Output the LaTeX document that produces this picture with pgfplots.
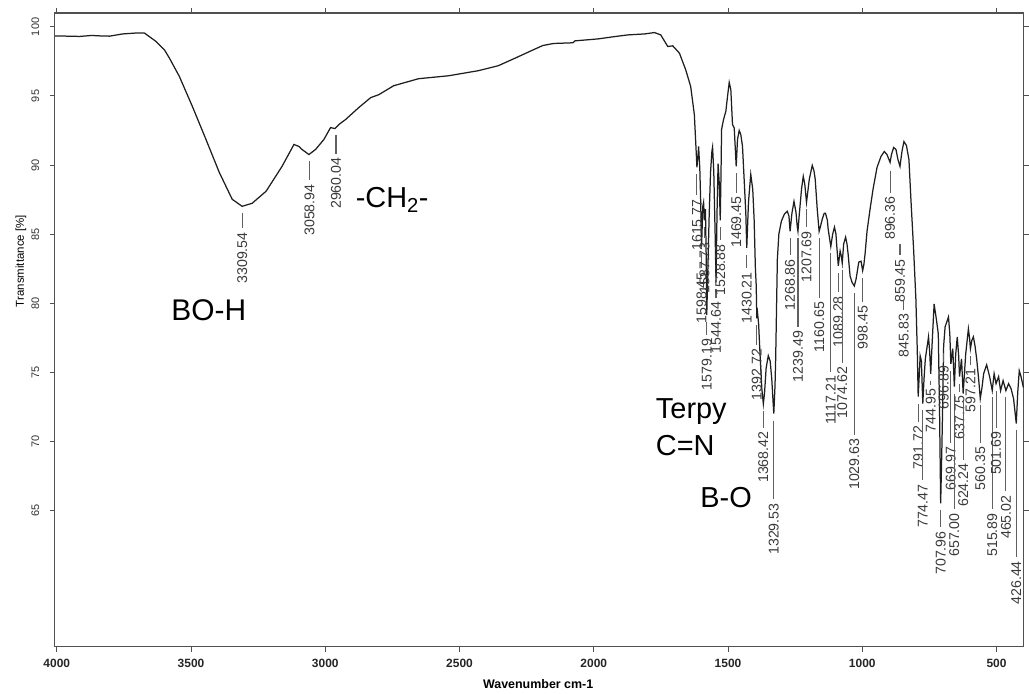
\documentclass[border=0pt]{standalone}
\usepackage{fontspec}
\setmainfont{Liberation Sans}
\usepackage{pgfplots}
\pgfplotsset{compat=1.18}
\definecolor{curvecol}{HTML}{1E1E1E}
\definecolor{labcol}{HTML}{3A3A3A}
\definecolor{linecol}{HTML}{606060}
\definecolor{framecol}{HTML}{505050}

% peak label: wavenumber, top of marker line (T), top of text (T)
\newcommand{\pk}[3]{%
  \draw[linecol, line width=1.1pt] (axis cs:#1,#2) -- (axis cs:#1,{#3+0.28});
  \node[rotate=90, anchor=east, inner sep=0pt, text=labcol,
        font=\fontsize{14.2}{15}\selectfont] at (axis cs:#1,#3) {#1};
}

\begin{document}
\begin{tikzpicture}
\begin{axis}[
  name=ax,
  scale only axis, width=972pt, height=636pt,
  x dir=reverse,
  xmin=399.4, xmax=4007.4, ymin=55.12, ymax=101.01,
  xtick={500,1000,...,4000},
  ytick={65,70,...,100},
  clip=false,
  tick align=outside, major tick length=5pt,
  axis line style={framecol, line width=1.3pt},
  tick style={framecol, line width=1pt},
  /pgf/number format/assume math mode=true,
  /pgf/number format/1000 sep={},
  xticklabel style={font=\bfseries\fontsize{12}{12}\selectfont, text=black!85},
  yticklabel style={rotate=90, anchor=south, font=\fontsize{11}{11}\selectfont, text=black!80},
  xticklabel shift=4pt,
  yticklabel shift=7pt,
  xlabel={Wavenumber cm-1},
  xlabel style={font=\bfseries\fontsize{12.5}{13}\selectfont, at={(axis description cs:0.499,-0.058)}, anchor=center},
  ylabel={Transmittance [\%]},
  ylabel style={font=\fontsize{11.5}{12}\selectfont, at={(axis description cs:-0.035,0.6085)}, anchor=center, rotate=0},
]
\addplot[curvecol, line width=1.25pt] coordinates {
(4007,99.35) (3914.6,99.31) (3870,99.38) (3840.4,99.35) (3803.3,99.33) (3755,99.49) (3710.5,99.55) (3673.3,99.55)
(3629.9,98.94) (3599.1,98.34) (3580.5,97.74) (3543.4,96.41) (3495.2,94.25) (3444.3,91.85) (3394.9,89.47)
(3346.7,87.52) (3309.6,87.01) (3272.4,87.23) (3220.5,88.10) (3161.1,89.90) (3116.6,91.49) (3098.0,91.34)
(3086.9,91.13) (3060.9,90.76) (3036.0,91.13) (3005.2,91.85) (2980.3,92.71) (2964.3,92.64) (2949.5,92.93)
(2924.6,93.29) (2875.3,94.16) (2830.8,94.88) (2801.0,95.09) (2745.4,95.74) (2652.5,96.25) (2541.2,96.46)
(2429.8,96.83) (2355.6,97.19) (2281.3,97.84) (2230,98.3) (2190,98.65) (2150,98.8) (2077.2,98.85) (2069.8,98.99)
(1984.4,99.13) (1921.3,99.30) (1873.0,99.42) (1811.0,99.49) (1773.9,99.59) (1750.5,99.42) (1724.5,98.58)
(1705.9,98.63) (1681.0,98.10) (1657.7,96.90) (1639.1,95.69) (1625.4,93.65) (1619.5,91.34) (1615.8,89.83)
(1611,90.9) (1609.5,91.34) (1605,89.7) (1602,87.5) (1598.4,84.1) (1594,87.0) (1591,87.3) (1587.7,86.0)
(1584,86.8) (1581,83.0) (1579.2,79.15) (1575,82.5) (1570,86.5) (1565,89.5) (1560,91.0) (1557.5,91.3)
(1553,89.5) (1548,85.0) (1544.6,81.5) (1541,86.5) (1537,90.1) (1533,88.8) (1528.9,86.0) (1526,89.5)
(1524,92.57) (1516.7,93.29) (1508.1,93.89) (1501.8,94.97) (1495.5,95.98) (1489.5,95.45) (1483.3,92.93)
(1476.9,92.69) (1469.5,89.9) (1464.7,91.85) (1458.3,92.50) (1452.5,92.21) (1446.1,91.36) (1439.9,88.96)
(1433.7,86.5) (1430.2,84.0) (1423.8,87.30) (1415.3,89.32) (1407.9,88.24) (1402.8,86.08) (1398,82.5)
(1395,81.3) (1392.7,78.9) (1390,79.3) (1386,78.5) (1380,76.0) (1374,73.8) (1368.4,72.7) (1364,73.5)
(1358,75.3) (1350,76.2) (1343,75.8) (1337,74.5) (1332,72.8) (1329.5,72.0) (1325,74.0) (1322.5,75.97)
(1316.2,83.19) (1310.6,85.0) (1301.3,85.93) (1290.2,86.44) (1279.1,86.65) (1273,86.3) (1268.9,85.2)
(1262,86.5) (1254.3,87.37) (1247,86.6) (1241.9,85.5) (1239.5,85.2) (1234.5,86.44) (1226,88.3)
(1219.7,89.18) (1214,88.6) (1207.7,87.30) (1202,88.2) (1197.4,88.96) (1186.3,89.97) (1180,89.6)
(1175.2,88.96) (1167.7,86.80) (1160.7,85.2) (1155,85.6) (1149.2,86.07) (1142,86.5) (1136.9,86.51)
(1130,86.0) (1126.9,85.35) (1117.2,84.1) (1110.2,85.0) (1103.5,85.50) (1098,85.0) (1095.4,84.27)
(1089.3,82.7) (1082.4,83.77) (1078,83.4) (1074.6,82.9) (1069.4,84.27) (1062.0,84.78) (1057,84.3)
(1052.7,83.55) (1045.3,81.96) (1038,81.5) (1029.6,81.24) (1023.0,81.75) (1013.0,82.97) (1004.5,83.04)
(998.5,82.35) (994,82.8) (989.6,83.55) (982.2,85.21) (971.0,86.80) (959.9,88.24) (945.0,89.83)
(930.2,90.62) (917.9,90.98) (908.0,90.76) (896.4,90.19) (891.3,90.76) (883.1,91.27) (874.5,91.13)
(867.1,90.40) (859.5,89.90) (852.2,90.98) (844.8,91.70) (835.5,91.41) (826.2,90.40) (818.8,87.52)
(808.8,83.91) (800.3,80.30) (795,76.5) (791.7,73.23) (786,75.5) (784.4,76.19) (779.9,75.83) (774.5,72.73)
(770,74.5) (765.1,75.97) (753.2,77.56) (749,76.5) (745,74.89) (740,77.0) (732.4,79.94) (724.2,78.86)
(716.8,77.78) (712,72.0) (708.0,65.51) (704,69.0) (700.0,73.09) (696.9,76.9) (691.5,78.28) (678.9,79.0)
(674,77.8) (670.0,75.61) (662.9,76.70) (657.0,73.95) (652,76.3) (646.2,77.56) (641,76.2) (637.8,74.68)
(630.3,75.97) (624.2,73.45) (614.7,76.33) (604.7,78.14) (600,77.4) (597.2,76.70) (592,77.3) (586.2,77.56)
(580,76.9) (573.9,75.97) (566,74.4) (560.4,73.09) (554,73.9) (547.9,74.89) (536.7,75.54) (525.6,74.68)
(515.9,73.67) (508.9,74.89) (501.7,74.17) (492.2,74.68) (484.8,73.67) (475.5,74.39) (465.0,73.67)
(455.1,74.17) (445.8,73.81) (436.5,73.09) (426.4,71.28) (421,73.5) (415.3,75.11) (408.6,74.68) (400,73.9)
};

\pk{3309.54}{86.51}{85.14}
\pk{3058.94}{90.26}{88.60}
\pk{2960.04}{92.14}{90.55}
\pk{1615.77}{89.33}{87.52}
\pk{1598.45}{83.60}{82.25}
\pk{1587.73}{85.50}{84.42}
\pk{1579.19}{78.65}{77.42}
\pk{1544.64}{81.00}{80.09}
\pk{1528.88}{85.50}{84.27}
\pk{1469.45}{89.40}{87.73}
\pk{1430.21}{83.50}{82.25}
\pk{1392.72}{78.40}{76.70}
\pk{1368.42}{72.20}{70.71}
\pk{1329.53}{71.50}{65.51}
\pk{1268.86}{84.70}{83.19}
\pk{1239.49}{84.70}{77.99}
\pk{1207.69}{86.80}{85.21}
\pk{1160.65}{84.70}{80.09}
\pk{1117.21}{83.60}{74.75}
\pk{1089.28}{82.20}{80.52}
\pk{1074.62}{82.40}{75.40}
\pk{1029.63}{80.74}{70.20}
\pk{998.45}{81.85}{79.80}
\pk{896.36}{89.60}{87.73}
\pk{859.45}{84.27}{83.19}
\pk{845.83}{80.16}{79.22}
\pk{791.72}{72.73}{71.14}
\pk{774.47}{72.23}{66.88}
\pk{744.95}{74.39}{73.81}
\pk{707.96}{64.99}{63.49}
\pk{696.89}{76.40}{75.47}
\pk{669.97}{75.10}{69.62}
\pk{657.00}{73.45}{64.79}
\pk{637.75}{74.18}{73.30}
\pk{624.24}{72.95}{68.40}
\pk{597.21}{76.20}{75.25}
\pk{560.35}{72.59}{69.62}
\pk{515.89}{73.17}{64.79}
\pk{501.69}{73.67}{70.71}
\pk{465.02}{73.17}{66.09}
\pk{426.44}{70.78}{61.33}

\node[anchor=base, font=\fontsize{30}{30}\selectfont] at (axis cs:3434,78.72) {BO-H};
\node[anchor=base, font=\fontsize{29}{29}\selectfont] at (axis cs:2751,86.94) {-CH\textsubscript{2}-};
\node[anchor=base west, inner sep=0pt, font=\fontsize{29}{29}\selectfont] at (axis cs:1769,71.64) {Terpy};
\node[anchor=base west, inner sep=0pt, font=\fontsize{29}{29}\selectfont] at (axis cs:1769,69.0) {C=N};
\node[anchor=base, font=\fontsize{29}{29}\selectfont] at (axis cs:1507,65.22) {B-O};
\end{axis}
\path ([shift={(-55pt,-47pt)}]ax.south west) rectangle ([shift={(2pt,13pt)}]ax.north east);
\end{tikzpicture}
\end{document}
